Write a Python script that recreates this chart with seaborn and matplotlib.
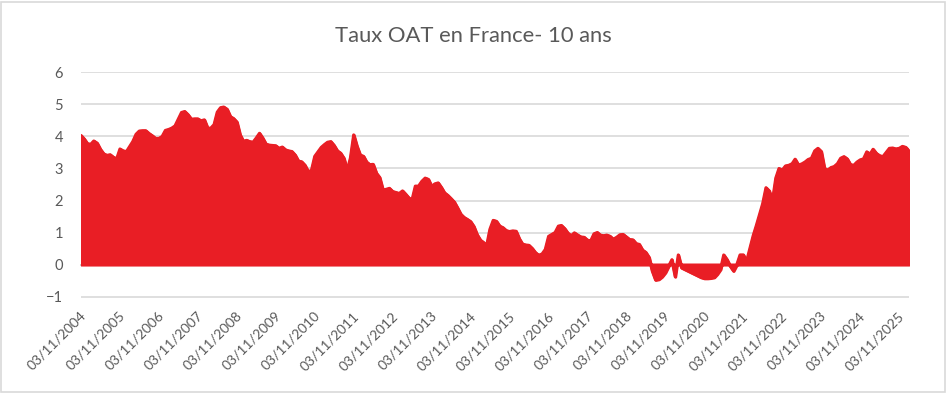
import numpy as np
import pandas as pd
import matplotlib
matplotlib.use('Agg')
import matplotlib.pyplot as plt
import matplotlib.dates as mdates
import matplotlib.transforms as mtransforms
import seaborn as sns

sns.set_theme(style='white')
plt.rcParams['font.family'] = ['Lato', 'DejaVu Sans']

# -----------------------------------------------------------------------------
# OAT 10 ans, one reading per month from 03/11/2004
# -----------------------------------------------------------------------------
start = '2004-11-03'
oat_10y = [
    # 2004-11 .. 2008-05
    4.03, 3.92, 3.77, 3.76, 3.86, 3.79, 3.60, 3.46, 3.41, 3.43, 3.35, 3.30,
    3.61, 3.55, 3.53, 3.69, 3.84, 4.07, 4.17, 4.18, 4.18, 4.09, 4.02, 3.94,
    3.94, 4.00, 4.19, 4.22, 4.26, 4.33, 4.54, 4.75, 4.78, 4.68, 4.54, 4.55,
    4.55, 4.49, 4.52, 4.26, 4.26, 4.37, 4.76,
    # 2008-06 .. 2011-12
    4.90, 4.92, 4.85, 4.62, 4.56, 4.45, 4.05, 3.85, 3.88, 3.84, 3.82, 3.95,
    4.10, 3.95, 3.76, 3.73, 3.72, 3.71, 3.63, 3.67, 3.58, 3.55, 3.53, 3.42,
    3.23, 3.21, 3.10, 2.90, 2.94, 3.38, 3.52, 3.66, 3.75, 3.82, 3.84, 3.72,
    3.55, 3.48, 3.32, 2.95, 3.32, 4.05, 3.70,
    # 2012-01 .. 2015-07
    3.42, 3.38, 3.20, 3.12, 3.13, 2.85, 2.72, 2.33, 2.35, 2.38, 2.28, 2.25,
    2.22, 2.30, 2.20, 2.08, 2.02, 2.45, 2.45, 2.60, 2.70, 2.66, 2.44, 2.52,
    2.55, 2.40, 2.24, 2.16, 2.06, 1.95, 1.77, 1.57, 1.47, 1.41, 1.34, 1.19,
    0.93, 0.76, 0.69, 0.60, 1.10, 1.38, 1.35,
    # 2015-08 .. 2019-03
    1.20, 1.15, 1.06, 1.03, 1.05, 1.04, 0.80, 0.64, 0.61, 0.60, 0.50, 0.37,
    0.29, 0.33, 0.47, 0.88, 0.94, 1.00, 1.20, 1.22, 1.12, 0.98, 0.90, 0.99,
    0.92, 0.86, 0.85, 0.76, 0.74, 0.96, 1.00, 0.92, 0.90, 0.92, 0.88, 0.79,
    0.85, 0.93, 0.94, 0.86, 0.78, 0.77, 0.65, 0.63,
    # 2019-04 .. 2022-10
    0.45, 0.38, 0.22, -0.20, -0.48, -0.46, -0.38, -0.25, -0.05, 0.15, -0.38, 0.30,
    -0.10, -0.15, -0.20, -0.25, -0.30, -0.35, -0.40, -0.43, -0.43, -0.42, -0.40, -0.30,
    -0.15, 0.30, 0.15, -0.05, -0.20, 0.00, 0.30, 0.30, 0.10, 0.50, 0.90, 1.20,
    1.55, 1.90, 2.40, 2.30, 2.00, 2.70, 3.00,
    # 2022-11 .. 2026-02
    2.95, 3.08, 3.10, 3.15, 3.29, 3.11, 3.14, 3.20, 3.28, 3.32, 3.55, 3.63,
    3.53, 3.00, 2.95, 3.03, 3.06, 3.15, 3.32, 3.37, 3.30, 3.12, 3.10, 3.20,
    3.27, 3.30, 3.52, 3.45, 3.60, 3.47, 3.40, 3.37, 3.50, 3.63, 3.64, 3.61,
    3.63, 3.69, 3.66, 3.55,
]
y_ticks = [-1, 0, 1, 2, 3, 4, 5, 6]
title = 'Taux OAT en France- 10 ans'

dates = pd.date_range(start, periods=len(oat_10y), freq=pd.DateOffset(months=1))
tick_dates = pd.date_range(start, '2025-11-03', freq=pd.DateOffset(years=1))
df = pd.DataFrame({'Date': mdates.date2num(dates), 'Taux': oat_10y})

red = '#E91E25'
text_grey = '#595959'
line_grey = '#D9D9D9'

# -----------------------------------------------------------------------------
# plot
# -----------------------------------------------------------------------------
fig = plt.figure(figsize=(9.47, 3.93), dpi=100)
ax = fig.add_axes([81/947, 1 - 297.5/393, 828/947, 226/393])

ax.fill_between(df['Date'], 0, df['Taux'], facecolor=red, edgecolor=red,
                lw=2.2, joinstyle='round', zorder=3)
sns.lineplot(data=df, x='Date', y='Taux', color=red, lw=2.2, ax=ax, zorder=3,
             solid_joinstyle='round')

ax.set_ylim(-1.03, 6.03)
ax.set_yticks(y_ticks)
ax.set_xlim(df['Date'].iloc[0], df['Date'].iloc[-1])
ax.set_xticks(mdates.date2num(tick_dates))
ax.set_xticklabels([d.strftime('%d/%m/%Y') for d in tick_dates])
ax.set_xlabel('')
ax.set_ylabel('')

ax.grid(axis='y', color=line_grey, lw=1.2)
ax.grid(axis='x', visible=False)
for s in ['left', 'right', 'top']:
    ax.spines[s].set_visible(False)
ax.spines['bottom'].set_position(('data', 0))
ax.spines['bottom'].set_color('#BFBFBF')

ax.tick_params(axis='y', length=0, pad=13, labelsize=10.5, labelcolor=text_grey)
ax.tick_params(axis='x', direction='out', length=3.5, width=1, color='#BFBFBF',
               pad=32, labelsize=10, labelcolor=text_grey)
shift = mtransforms.ScaledTranslation(3/100, 0, fig.dpi_scale_trans)
for lab in ax.get_xticklabels():
    lab.set_rotation(45)
    lab.set_ha('right')
    lab.set_va('center')
    lab.set_rotation_mode('anchor')
    lab.set_transform(lab.get_transform() + shift)

fig.text(0.5, 1 - 36/393, title, ha='center', va='center', fontsize=15.8,
         color=text_grey)

# light frame round the chart
fig.add_artist(plt.Rectangle((1/947, 1/393), 944/947, 390/393, transform=fig.transFigure,
                             fill=False, ec=line_grey, lw=1.2))

fig.savefig('out.png', dpi=100)
plt.close('all')
